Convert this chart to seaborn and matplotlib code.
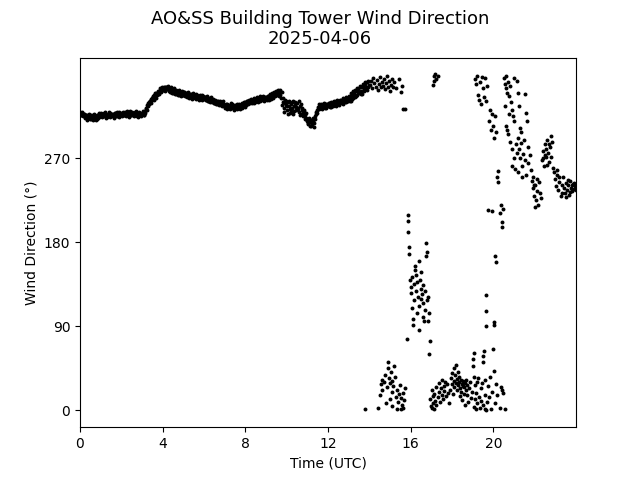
import matplotlib
matplotlib.use("Agg")
import matplotlib.pyplot as plt
import seaborn as sns
import numpy as np
import pandas as pd

# steady band 00:00 - 13:59 UTC, readings every 1.5 minutes (degrees);
# band_dir holds the readings on the 3-minute marks, band_dir_b the ones in between
band_step_h = 0.05
band_dir = [
    320, 317, 319, 316, 318, 315, 317, 314, 316, 313, 315, 312, 314, 316, 313, 315, 312, 316, 314, 317,  # 00h
    315, 318, 316, 319, 315, 317, 314, 318, 316, 319, 317, 315, 318, 316, 319, 317, 315, 318, 320, 316,  # 01h
    318, 316, 319, 317, 320, 318, 316, 319, 321, 317, 319, 316, 318, 320, 317, 315, 318, 316, 319, 317,  # 02h
    318, 320, 317, 321, 324, 327, 326, 330, 332, 334, 333, 336, 338, 337, 340, 339, 341, 343, 342, 344,  # 03h
    345, 343, 346, 344, 347, 345, 342, 344, 341, 343, 340, 342, 341, 339, 342, 340, 338, 341, 339, 340,  # 04h
    338, 341, 339, 337, 340, 338, 336, 339, 337, 335, 338, 336, 339, 337, 335, 337, 334, 336, 338, 335,  # 05h
    334, 336, 333, 335, 332, 334, 331, 333, 330, 332, 329, 331, 330, 328, 331, 329, 327, 330, 328, 326,  # 06h
    327, 325, 328, 326, 324, 327, 325, 328, 326, 324, 327, 325, 323, 326, 328, 325, 327, 329, 326, 328,  # 07h
    330, 328, 331, 329, 332, 330, 333, 331, 329, 332, 334, 331, 333, 335, 332, 334, 336, 333, 335, 334,  # 08h
    336, 334, 337, 335, 338, 336, 339, 337, 340, 338, 341, 339, 342, 340, 338, 341, 330, 324, 333, 327,  # 09h
    322, 330, 326, 319, 328, 324, 331, 321, 327, 325, 329, 323, 320, 326, 318, 324, 315, 320, 317, 313,  # 10h
    311, 307, 313, 309, 305, 310, 308, 312, 318, 322, 325, 323, 327, 324, 326, 328, 325, 327, 324, 328,  # 11h
    326, 329, 327, 325, 328, 330, 327, 329, 331, 328, 330, 332, 329, 333, 331, 328, 334, 330, 332, 335,  # 12h
    333, 336, 331, 338, 335, 340, 336, 342, 338, 344, 340, 346, 342, 339, 348, 344, 350, 345, 352, 347,  # 13h
]
band_dir_b = [
    316, 320, 315, 318, 313, 317, 311, 315, 318, 312, 317, 314, 311, 318, 315, 311, 317, 313, 319, 315,  # 00h
    319, 314, 318, 315, 320, 313, 317, 315, 320, 314, 318, 316, 313, 319, 315, 320, 316, 314, 317, 319,  # 01h
    315, 320, 316, 318, 315, 321, 317, 314, 319, 316, 320, 318, 315, 317, 321, 318, 314, 320, 317, 315,  # 02h
    321, 316, 319, 323, 322, 329, 328, 332, 329, 335, 337, 333, 340, 335, 338, 342, 339, 345, 341, 346,  # 03h
    343, 347, 342, 346, 344, 348, 345, 341, 346, 340, 345, 339, 343, 341, 338, 343, 341, 337, 342, 338,  # 04h
    341, 337, 340, 336, 341, 335, 339, 338, 334, 340, 336, 338, 334, 338, 336, 333, 338, 335, 333, 337,  # 05h
    336, 333, 337, 331, 335, 330, 336, 331, 334, 329, 333, 328, 332, 330, 327, 332, 328, 326, 331, 327,  # 06h
    324, 328, 323, 327, 326, 323, 329, 324, 327, 322, 325, 328, 324, 327, 323, 327, 324, 327, 330, 325,  # 07h
    327, 332, 328, 333, 329, 334, 329, 332, 335, 330, 333, 336, 330, 334, 337, 333, 335, 337, 332, 336,  # 08h
    333, 337, 333, 339, 334, 340, 335, 341, 337, 342, 338, 343, 337, 343, 335, 327, 335, 320, 329, 332,  # 09h
    326, 318, 332, 323, 321, 330, 318, 326, 330, 322, 324, 331, 317, 328, 322, 319, 322, 312, 319, 310,  # 10h
    308, 312, 305, 311, 307, 313, 304, 315, 320, 319, 323, 328, 324, 328, 323, 327, 329, 324, 328, 326,  # 11h
    329, 325, 330, 328, 326, 332, 329, 326, 333, 330, 327, 333, 331, 329, 335, 332, 330, 336, 333, 331,  # 12h
    337, 332, 340, 334, 342, 338, 343, 337, 345, 341, 348, 339, 346, 350, 342, 352, 347, 343, 353, 349,  # 13h
]

north_high_14_17 = [
    (14.05, 349), (14.1, 353), (14.15, 345), (14.2, 356), (14.25, 351), (14.3, 347), (14.35, 354),
    (14.4, 343), (14.45, 350), (14.5, 357), (14.55, 346), (14.6, 352), (14.65, 348), (14.7, 355),
    (14.75, 344), (14.8, 351), (14.85, 358), (14.9, 347), (14.95, 353), (15.0, 342), (15.05, 349),
    (15.1, 355), (15.15, 346), (15.2, 352), (15.3, 345), (15.45, 355), (15.55, 341), (15.6, 348),
    (15.65, 323), (15.75, 323), (17.1, 349), (17.12, 353), (17.15, 358), (17.2, 360), (17.22, 355),
    (17.3, 358),
]
north_low_14_16 = [
    (13.8, 2), (14.4, 3), (14.5, 17), (14.55, 28), (14.6, 33), (14.62, 22), (14.7, 30), (14.75, 38),
    (14.8, 8), (14.85, 25), (14.9, 45), (14.92, 52), (14.95, 35), (15.0, 12), (15.02, 29), (15.05, 41),
    (15.08, 20), (15.1, 31), (15.12, 5), (15.15, 26), (15.2, 48), (15.25, 36), (15.3, 14), (15.32, 2),
    (15.35, 22), (15.4, 9), (15.45, 18), (15.5, 27), (15.52, 1), (15.55, 13), (15.6, 6), (15.62, 19),
    (15.65, 3), (15.7, 11), (15.72, 24),
]
east_16_17 = [
    (15.82, 76), (15.85, 209), (15.87, 203), (15.88, 191), (15.9, 175), (15.92, 168), (15.95, 140),
    (16.0, 132), (16.02, 126), (16.05, 143), (16.08, 110), (16.1, 98), (16.12, 92), (16.15, 118),
    (16.18, 135), (16.2, 150), (16.22, 155), (16.25, 128), (16.28, 145), (16.3, 104), (16.32, 138),
    (16.35, 122), (16.38, 160), (16.4, 112), (16.42, 86), (16.45, 140), (16.48, 130), (16.5, 148),
    (16.52, 119), (16.55, 125), (16.58, 100), (16.6, 134), (16.62, 115), (16.65, 96), (16.68, 128),
    (16.7, 108), (16.72, 165), (16.75, 179), (16.78, 170), (16.8, 118), (16.82, 122), (16.85, 96),
    (16.88, 104), (16.9, 60), (16.92, 74),
]
north_low_17_21 = [
    (16.95, 12), (17.0, 5), (17.02, 22), (17.05, 3), (17.08, 15), (17.1, 8), (17.12, 1), (17.15, 18),
    (17.2, 10), (17.22, 25), (17.25, 6), (17.3, 14), (17.35, 20), (17.38, 29), (17.4, 9), (17.45, 24),
    (17.5, 17), (17.52, 33), (17.55, 12), (17.6, 26), (17.62, 21), (17.65, 30), (17.7, 15), (17.75, 28),
    (17.8, 19), (17.85, 8), (17.9, 22), (17.95, 35), (18.0, 28), (18.02, 40), (18.05, 18), (18.08, 45),
    (18.1, 31), (18.12, 25), (18.15, 38), (18.18, 49), (18.2, 29), (18.22, 34), (18.25, 22), (18.28, 41),
    (18.3, 27), (18.32, 36), (18.35, 30), (18.38, 15), (18.4, 24), (18.42, 33), (18.45, 20), (18.48, 28),
    (18.5, 11), (18.52, 26), (18.55, 31), (18.58, 18), (18.6, 25), (18.62, 6), (18.65, 29), (18.68, 22),
    (18.7, 33), (18.72, 16), (18.75, 27), (18.78, 9), (18.8, 24), (18.85, 30), (18.9, 13), (18.95, 20),
    (19.0, 48), (19.02, 55), (19.05, 62), (19.05, 36), (19.08, 4), (19.1, 12), (19.12, 27), (19.15, 2),
    (19.18, 19), (19.2, 30), (19.22, 8), (19.25, 35), (19.3, 14), (19.35, 3), (19.38, 24), (19.4, 10),
    (19.45, 29), (19.5, 6), (19.5, 52), (19.52, 58), (19.55, 64), (19.58, 2), (19.6, 17), (19.62, 33),
    (19.65, 0), (19.7, 9), (19.75, 26), (19.8, 14), (19.85, 36), (19.9, 1), (19.95, 20), (20.0, 66),
    (20.05, 42), (20.1, 8), (20.15, 28), (20.2, 17), (20.3, 3), (20.35, 25), (20.4, 22), (20.45, 19),
    (20.55, 1),
]
veering_19_21 = [
    (19.1, 355), (19.15, 350), (19.2, 358), (19.25, 338), (19.3, 333), (19.35, 352), (19.4, 328),
    (19.45, 357), (19.5, 345), (19.55, 336), (19.6, 356), (19.65, 331), (19.7, 348), (19.75, 215),
    (19.8, 310), (19.85, 322), (19.9, 300), (19.95, 318), (20.0, 305), (20.05, 292), (20.1, 315),
    (20.15, 298), (20.2, 250), (20.22, 256), (20.25, 245), (20.3, 212), (20.35, 220), (20.4, 202),
    (20.42, 196), (20.45, 216), (20.1, 165), (20.12, 159), (19.95, 214), (19.65, 124), (19.65, 106),
    (19.65, 90), (20.05, 95), (20.05, 91), (20.5, 356), (20.55, 350), (20.6, 345), (20.62, 358),
    (20.65, 340), (20.7, 352), (20.75, 337), (20.8, 348), (20.85, 330), (20.9, 322), (20.95, 315),
    (21.0, 310), (20.6, 305), (20.7, 296), (20.8, 288), (20.9, 280), (21.0, 270), (20.55, 326),
    (20.75, 318), (21.05, 259), (21.1, 285), (21.15, 276), (20.65, 300), (20.88, 262),
]
west_21_24 = [
    (21.2, 292), (21.25, 280), (21.3, 270), (21.35, 286), (21.4, 262), (21.45, 275), (21.5, 290),
    (21.55, 268), (21.6, 252), (21.3, 303), (21.35, 298), (21.55, 339), (21.6, 319), (21.65, 310),
    (21.7, 282), (21.2, 255), (21.4, 250), (21.7, 265), (21.75, 274), (21.8, 258), (21.25, 326),
    (21.2, 340), (21.15, 353), (21.0, 356),
    (21.85, 246), (21.9, 238), (21.95, 230), (22.0, 242), (22.05, 225), (22.1, 235), (22.15, 220),
    (22.2, 245), (22.25, 233), (22.3, 228), (21.9, 250), (22.0, 218), (22.1, 248), (21.95, 241),
    (22.35, 268), (22.4, 278), (22.45, 262), (22.5, 285), (22.55, 272), (22.6, 290), (22.65, 276),
    (22.7, 266), (22.75, 282), (22.8, 271), (22.85, 288), (22.9, 260), (22.5, 274), (22.6, 263),
    (22.7, 285), (22.8, 294), (22.4, 270), (22.55, 280),
    (22.95, 255), (23.0, 248), (23.05, 240), (23.1, 252), (23.15, 236), (23.2, 245), (23.25, 230),
    (23.3, 242), (23.35, 250), (23.4, 238), (23.45, 233), (23.5, 244), (23.55, 236), (23.6, 241),
    (23.65, 231), (23.7, 246), (23.75, 238), (23.8, 235), (23.85, 243), (23.9, 237), (23.95, 240),
    (24.0, 236), (23.1, 258), (23.2, 250), (23.3, 233), (23.5, 229), (23.6, 247), (23.7, 234),
    (23.8, 242), (23.9, 244),
]

xticks = [0, 4, 8, 12, 16, 20]
yticks = [0, 90, 180, 270]

band = pd.DataFrame({"hour": np.arange(len(band_dir)) * band_step_h, "direction": band_dir})
band_b = pd.DataFrame({"hour": (np.arange(len(band_dir_b)) + 0.5) * band_step_h, "direction": band_dir_b})
scattered = pd.DataFrame(
    north_high_14_17 + north_low_14_16 + east_16_17 + north_low_17_21 + veering_19_21 + west_21_24,
    columns=["hour", "direction"],
)
df = pd.concat([band, band_b, scattered], ignore_index=True)

fig, ax = plt.subplots(figsize=(6.4, 4.8), dpi=100)
sns.scatterplot(data=df, x="hour", y="direction", color="black", s=8, linewidth=0, ax=ax)

ax.set_xlim(0, 24)
ax.set_ylim(-18, 378)
ax.set_xticks(xticks)
ax.set_yticks(yticks)
ax.set_xlabel("Time (UTC)")
ax.set_ylabel("Wind Direction (°)")
fig.suptitle("AO&SS Building Tower Wind Direction\n2025-04-06", fontsize=13)

fig.savefig("out.png", dpi=100)
